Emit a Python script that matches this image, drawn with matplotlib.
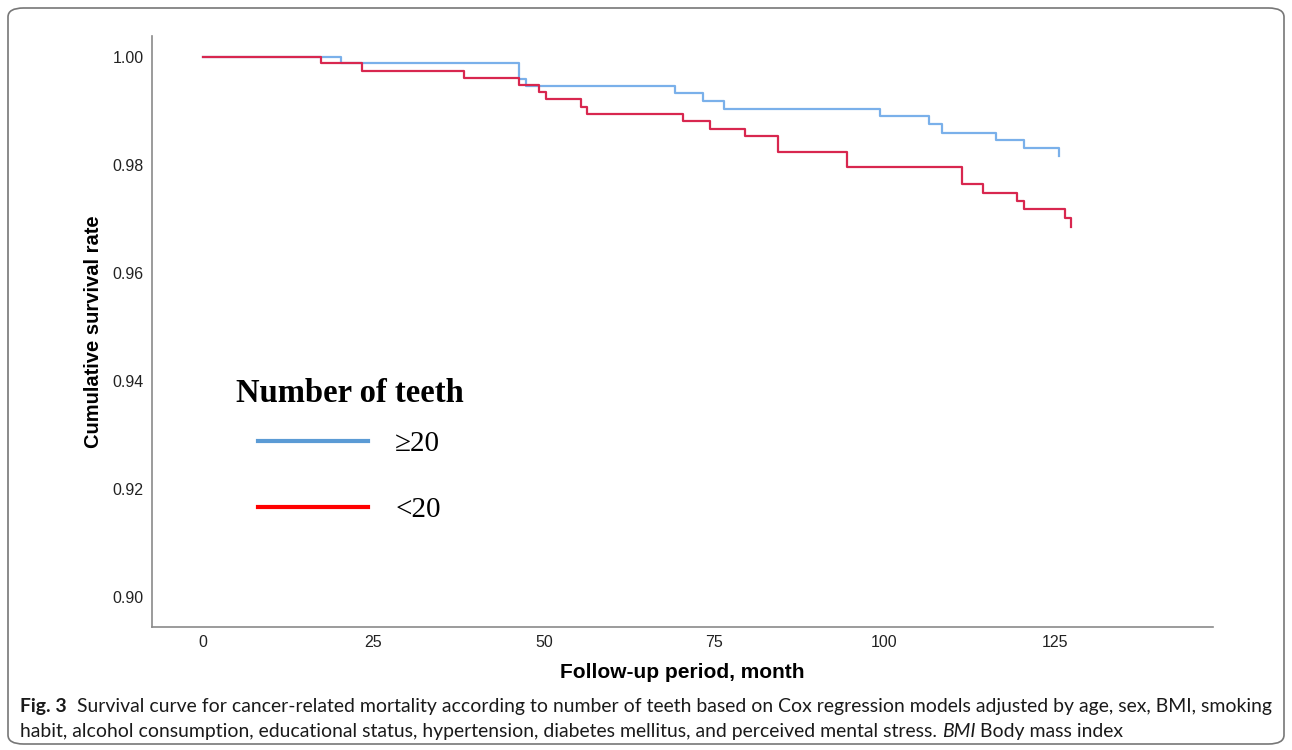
import matplotlib
matplotlib.use("Agg")
import matplotlib.pyplot as plt
from matplotlib.lines import Line2D
from matplotlib.patches import FancyBboxPatch

# Kaplan-Meier style step data
time_ge20 = [0, 20.3, 46.4, 47.4, 69.3, 73.4, 76.4, 99.4, 106.5, 108.5, 116.4, 120.5, 125.6]
surv_ge20 = [1.000, 0.9988, 0.9959, 0.9947, 0.9933, 0.9919, 0.9904, 0.9890, 0.9876,
             0.9860, 0.9846, 0.9831, 0.9817]

time_lt20 = [0, 17.3, 23.3, 38.3, 46.3, 49.3, 50.3, 55.4, 56.4, 70.4, 74.4, 79.5, 84.4,
             94.5, 111.4, 114.5, 119.5, 120.5, 126.5, 127.4]
surv_lt20 = [1.000, 0.9988, 0.9975, 0.9962, 0.9949, 0.9935, 0.9922, 0.9908, 0.9894,
             0.9882, 0.9867, 0.9853, 0.9825, 0.9796, 0.9765, 0.9749, 0.9733, 0.9718,
             0.9701, 0.9685]

group_labels = ["\u226520", "<20"]
x_ticks = [0, 25, 50, 75, 100, 125]
y_ticks = [0.90, 0.92, 0.94, 0.96, 0.98, 1.00]

caption_1 = ("Survival curve for cancer-related mortality according to number of teeth based on "
             "Cox regression models adjusted by age, sex, BMI, smoking")
caption_2 = ("habit, alcohol consumption, educational status, hypertension, diabetes mellitus, "
             "and perceived mental stress. ")

plt.rcParams["font.family"] = ["Liberation Sans", "DejaVu Sans"]

fig = plt.figure(figsize=(12.92, 7.5), dpi=100)
ax = fig.add_axes([152 / 1292, 1 - 627 / 750, (1213 - 152) / 1292, (627 - 36) / 750])

ax.step(time_ge20, surv_ge20, where="post", color="#7ab0ea", lw=1.6)
ax.step(time_lt20, surv_lt20, where="post", color="#d8274f", lw=1.6)

ax.set_xlim(-7.5, 148.2)
ax.set_ylim(0.89444, 1.00389)
ax.set_xticks(x_ticks)
ax.set_yticks(y_ticks)
ax.set_yticklabels([f"{v:.2f}" for v in y_ticks])
ax.tick_params(length=0, labelsize=11.5, colors="#222222")
ax.tick_params(axis="y", pad=6)
ax.tick_params(axis="x", pad=6)
for s in ["top", "right"]:
    ax.spines[s].set_visible(False)
for s in ["left", "bottom"]:
    ax.spines[s].set_color("#8a8a8a")
    ax.spines[s].set_linewidth(1.2)

ax.set_xlabel("Follow-up period, month", fontsize=15, fontweight="bold", labelpad=9)
ax.set_ylabel("Cumulative survival rate", fontsize=14.5, fontweight="bold", labelpad=7)

handles = [Line2D([], [], color="#5b9bd5", lw=3),
           Line2D([], [], color="#ff0000", lw=3)]
leg = ax.legend(handles, group_labels, title="Number of teeth", frameon=False,
                loc="upper left", bbox_to_anchor=(0.054, 0.466),
                prop={"family": "Liberation Serif", "size": 21},
                handlelength=3.75, handletextpad=0.95, labelspacing=1.35)
leg.get_title().set_fontproperties({"family": "Liberation Serif", "weight": "bold", "size": 23.5})
leg._legend_box.sep = 16

# caption
cap_font = ["Lato", "DejaVu Sans"]
cap_size = 13.95
y1 = 1 - 712 / 750
y2 = 1 - 737 / 750
t0 = fig.text(20 / 1292, y1, "Fig. 3", fontsize=cap_size, fontweight="bold",
              family=cap_font, color="#1a1a1a", va="baseline")
fig.canvas.draw()
bb0 = t0.get_window_extent()
fig.text((bb0.x1 + 10) / 1292, y1, caption_1, fontsize=cap_size, family=cap_font,
         color="#1a1a1a", va="baseline")
t2 = fig.text(20 / 1292, y2, caption_2, fontsize=cap_size, family=cap_font,
              color="#1a1a1a", va="baseline")
fig.canvas.draw()
bb = t2.get_window_extent()
t3 = fig.text(bb.x1 / 1292, y2, "BMI", fontsize=cap_size, family=cap_font,
              style="italic", color="#1a1a1a", va="baseline")
fig.canvas.draw()
bb3 = t3.get_window_extent()
fig.text((bb3.x1 + 4) / 1292, y2, "Body mass index", fontsize=cap_size,
         family=cap_font, color="#1a1a1a", va="baseline")

frame = FancyBboxPatch((8 / 1292, 6 / 750), 1276 / 1292, 736 / 750,
                       boxstyle="round,pad=0,rounding_size=0.012",
                       transform=fig.transFigure, fill=False, ec="#777777", lw=1.2)
fig.patches.append(frame)

fig.savefig("out.png", dpi=100)
